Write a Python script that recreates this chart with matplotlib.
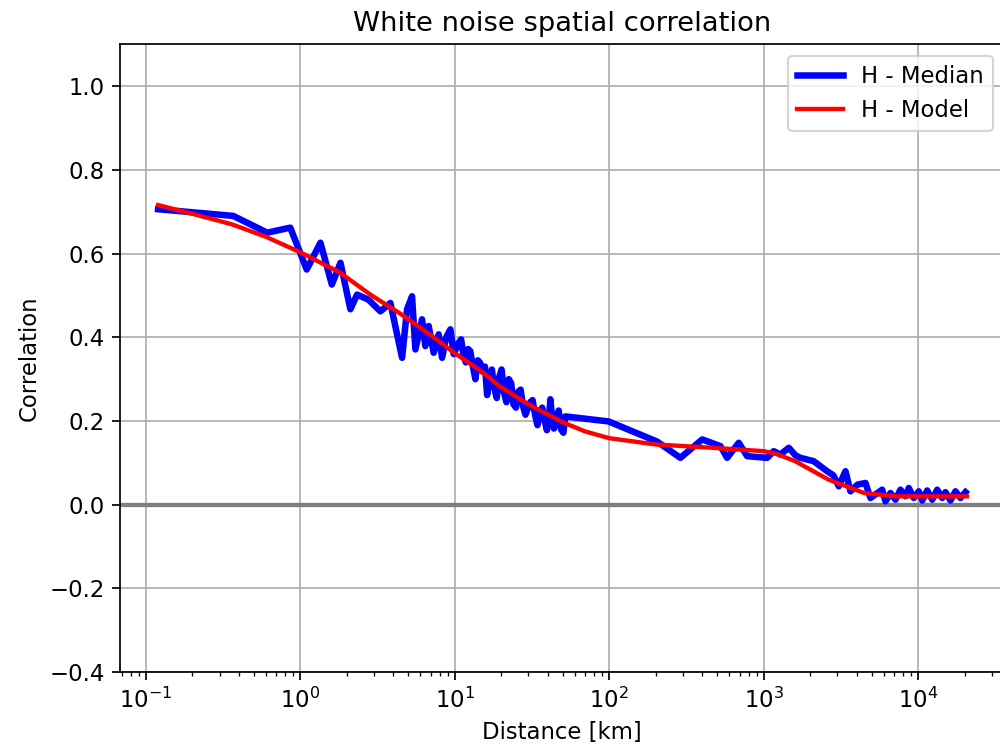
# Correlazione spaziale del rumore bianco
import numpy as np
import matplotlib.pyplot as plt

plt.rcParams['font.size'] = 10.5

# Mediana (H)
dist_median = [0.12, 0.368, 0.611, 0.861, 1.10, 1.35, 1.60, 1.82, 2.11, 2.33,
               2.76, 3.30, 3.83, 4.56, 4.91, 5.29, 5.56, 6.14, 6.45, 6.78,
               7.30, 7.87, 8.28, 8.8, 9.37, 9.84,
               10.6, 11.0, 11.4, 11.8, 12.2, 12.6, 13.1, 13.6, 14.1, 14.6,
               15.1, 15.7, 16.2, 16.8, 17.4, 18.0, 18.7, 19.4, 20.1, 20.8,
               21.6, 22.4, 23.2, 24.0, 24.9, 25.8, 26.7, 27.7, 28.7, 29.7,
               30.8, 31.9, 33.1, 34.3, 35.5, 36.8, 38.1, 39.5, 40.9, 41.6,
               42.4, 43.9, 45.5, 47.1, 48.8, 50.5, 52.0, 99,
               204, 289, 400, 525, 580, 690, 782, 1054, 1162, 1284,
               1455, 1607, 1730, 2110, 2577, 2832, 3064, 3388, 3648, 4053,
               4564, 4917, 5853, 6150, 6625, 7140, 7690, 8285, 8705, 9380,
               10110, 10640, 11460, 12350, 13300, 14330, 15040, 16210, 17460, 18820,
               20270]
corr_median = [0.706, 0.690, 0.650, 0.662, 0.562, 0.626, 0.526, 0.578, 0.467, 0.502,
               0.490, 0.462, 0.482, 0.351, 0.467, 0.498, 0.371, 0.443, 0.379, 0.427,
               0.363, 0.407, 0.351, 0.400, 0.419, 0.360,
               0.387, 0.395, 0.355, 0.340, 0.372, 0.367, 0.330, 0.300, 0.345, 0.339,
               0.318, 0.330, 0.262, 0.300, 0.323, 0.280, 0.255, 0.305, 0.323, 0.270,
               0.245, 0.300, 0.290, 0.240, 0.232, 0.270, 0.275, 0.235, 0.215, 0.230,
               0.245, 0.250, 0.215, 0.190, 0.210, 0.232, 0.205, 0.178, 0.215, 0.252,
               0.220, 0.182, 0.205, 0.225, 0.180, 0.172, 0.211, 0.199,
               0.151, 0.112, 0.156, 0.140, 0.112, 0.148, 0.116, 0.112, 0.128, 0.120,
               0.136, 0.118, 0.112, 0.104, 0.080, 0.070, 0.044, 0.080, 0.032, 0.048,
               0.052, 0.016, 0.036, 0.008, 0.028, 0.012, 0.036, 0.020, 0.040, 0.016,
               0.032, 0.010, 0.034, 0.012, 0.036, 0.016, 0.030, 0.010, 0.032, 0.016,
               0.030]

# Modello (H)
dist_model = [0.12, 0.2, 0.36, 0.6, 1.0, 1.8, 2.84, 4.5, 7, 10,
              15, 19.5, 30, 50, 70, 100, 200, 470, 1000, 1200,
              1600, 2630, 4470, 7200, 20700]
corr_model = [0.716, 0.695, 0.670, 0.640, 0.603, 0.555, 0.502, 0.455, 0.405, 0.362,
              0.318, 0.283, 0.240, 0.197, 0.175, 0.159, 0.144, 0.136, 0.128, 0.122,
              0.104, 0.060, 0.028, 0.020, 0.020]

fig = plt.figure(figsize=(6.4, 4.8064), dpi=156.25)
ax = fig.add_axes([0.12, 0.105, 0.884, 0.836])

ax.axhline(0, color='gray', linewidth=2)
ax.semilogx(dist_median, corr_median, color='blue', linewidth=3, label="H - Median")
ax.semilogx(dist_model, corr_model, color='red', linewidth=2, label="H - Model")

ax.set_xlim(0.068, 3.6e4)
ax.set_ylim(-0.4, 1.1)
ax.grid(True)
ax.legend(loc='upper right')
ax.set_xlabel("Distance [km]")
ax.set_ylabel("Correlation")
ax.set_title("White noise spatial correlation")

fig.savefig("out.png")
